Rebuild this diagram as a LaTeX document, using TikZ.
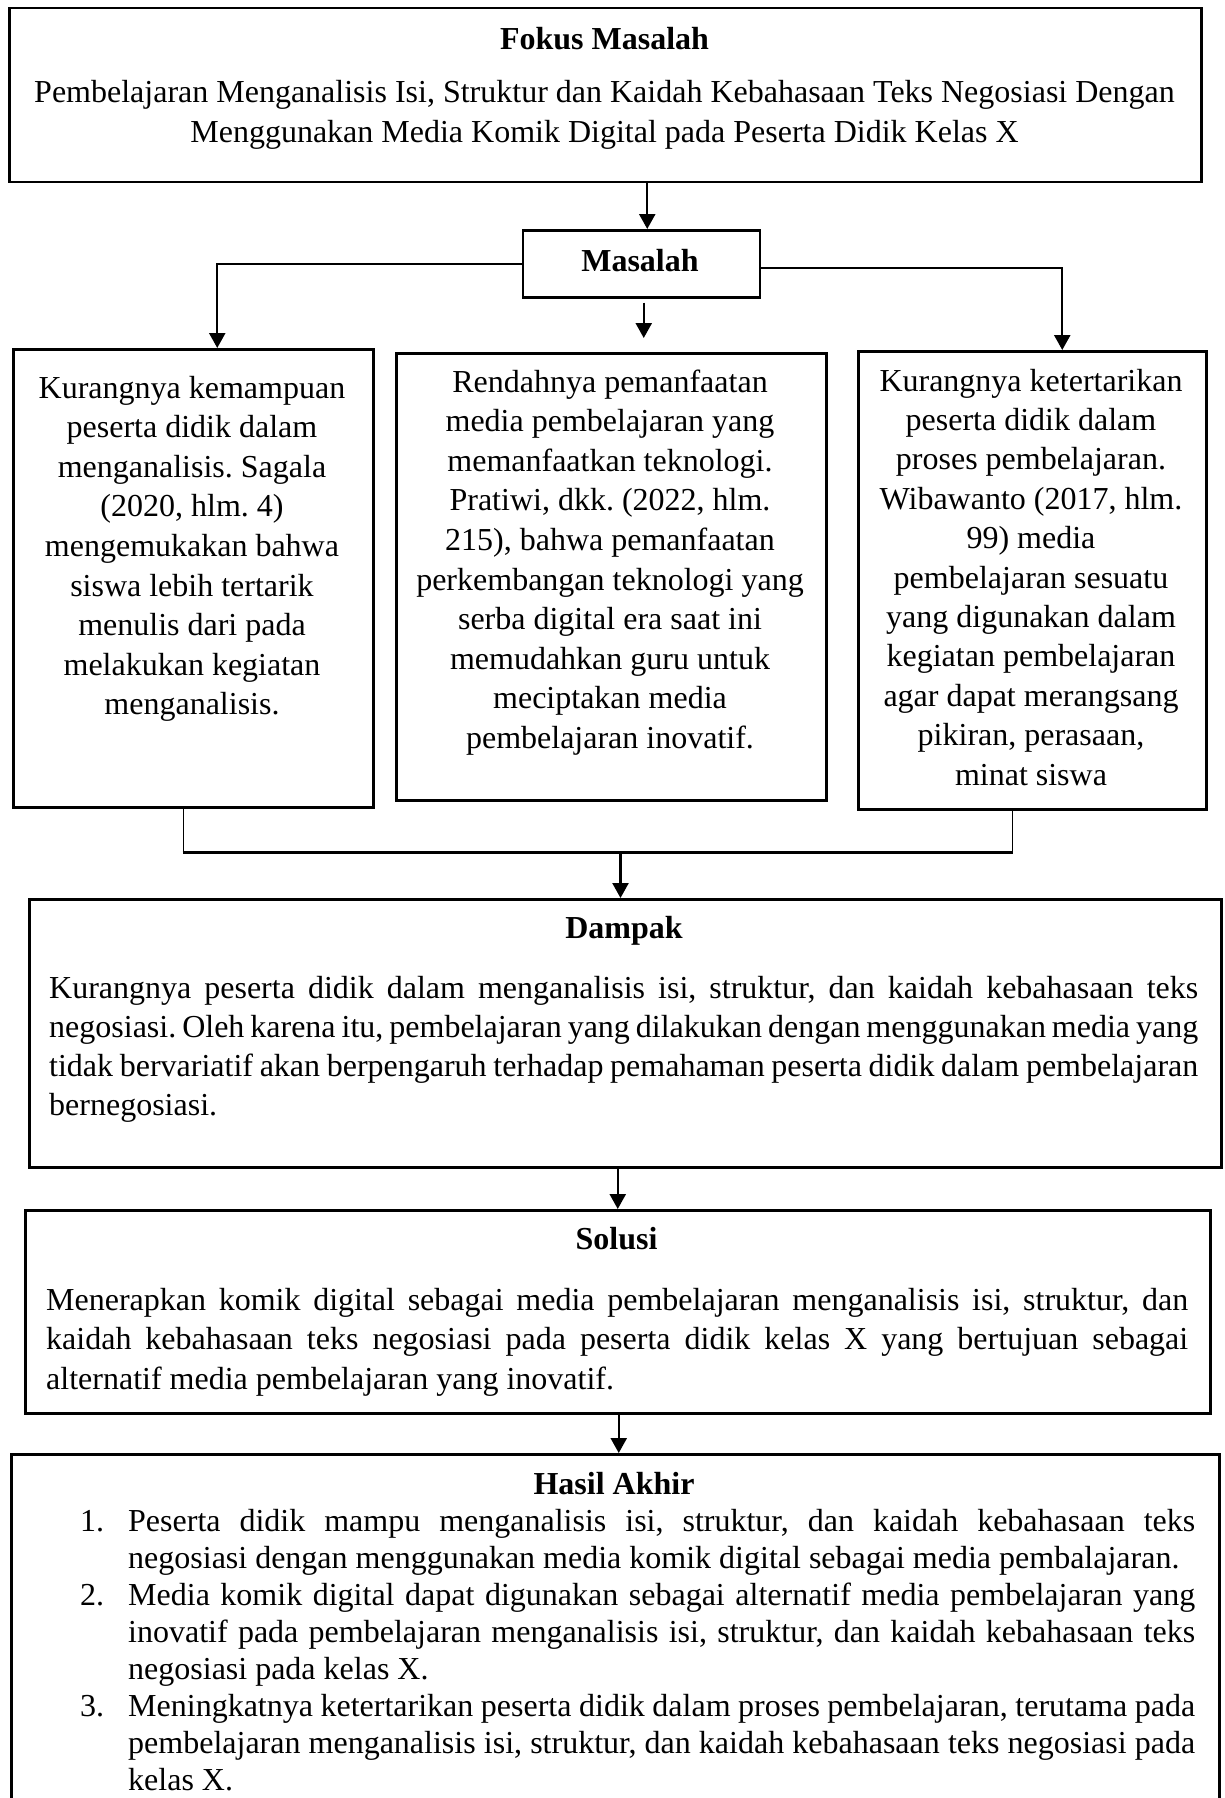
\documentclass[tikz,border=0pt]{standalone}
\usepackage{fontspec}
\setmainfont{Liberation Serif}
\usetikzlibrary{arrows.meta}
\newcommand\normsp{\spaceskip=0pt\xspaceskip=0pt\frenchspacing\parindent=0pt\relax}
\newcommand\ctrsp{\spaceskip=0.25em\xspaceskip=0.25em\frenchspacing\parindent=0pt\relax}
\newcommand\jline[1]{\leavevmode\hbox to \hsize{#1}}
\newcommand\num[1]{\llap{\hbox to 48pt{#1\hfil}}}
\tikzset{
  box/.style={draw, line width=2.5pt, inner sep=0pt, anchor=north west},
  txt/.style={inner sep=0pt, font=\fontsize{32}{39.6}\selectfont},
  ttl/.style={inner sep=0pt, font=\fontsize{32}{39.6}\selectfont\bfseries, anchor=base},
  conn/.style={line width=2.4pt},
  stub/.style={line width=1.4pt},
  arr/.style={line width=2.4pt, -{Triangle[width=16pt,length=15pt]}},
}
\begin{document}
\begin{tikzpicture}[x=1pt,y=-1pt]
\fill[white] (0,0) rectangle (1224,1798);
\clip (0,0) rectangle (1224,1798);
% boxes
\node[box, minimum width=1192pt, minimum height=174pt] (fokus) at (8,7) {};
\node[box, minimum width=237pt, minimum height=67pt] (masalah) at (521.5,229) {};
\node[box, minimum width=360pt, minimum height=458pt] (k1) at (12,348) {};
\node[box, minimum width=430pt, minimum height=447pt] (k2) at (395,352) {};
\node[box, minimum width=348pt, minimum height=458pt] (k3) at (857,350) {};
\node[box, minimum width=1192pt, minimum height=268pt] (dampak) at (28,898) {};
\node[box, minimum width=1185pt, minimum height=203pt] (solusi) at (24,1209) {};
\node[box, minimum width=1208pt, minimum height=420pt] (hasil) at (10,1453) {};
% texts
\node[ttl] (tfokus) at (604.5,50) {Fokus Masalah};
\node[txt, anchor=base, text width=1180pt, align=center, font=\fontsize{32}{40}\selectfont] (bfokus) at (604.5,103)
 {\ctrsp Pembelajaran Menganalisis Isi, Struktur dan Kaidah Kebahasaan Teks Negosiasi Dengan\\
  Menggunakan Media Komik Digital pada Peserta Didik Kelas X};
\node[ttl] (tmasalah) at (640,271) {Masalah};
\node[txt, anchor=base, text width=350pt, align=center] (bk1) at (192,398)
 {\ctrsp Kurangnya kemampuan\\ peserta didik dalam\\ menganalisis. Sagala\\ (2020, hlm. 4)\\ mengemukakan bahwa\\ siswa lebih tertarik\\ menulis dari pada\\ melakukan kegiatan\\ menganalisis.};
\node[txt, anchor=base, text width=420pt, align=center] (bk2) at (610,392)
 {\ctrsp Rendahnya pemanfaatan\\ media pembelajaran yang\\ memanfaatkan teknologi.\\ Pratiwi, dkk. (2022, hlm.\\ 215), bahwa pemanfaatan\\ perkembangan teknologi yang\\ serba digital era saat ini\\ memudahkan guru untuk\\ meciptakan media\\ pembelajaran inovatif.};
\node[txt, anchor=base, text width=340pt, align=center, font=\fontsize{32}{39.4}\selectfont] (bk3) at (1031,391)
 {\ctrsp Kurangnya ketertarikan\\ peserta didik dalam\\ proses pembelajaran.\\ Wibawanto (2017, hlm.\\ 99) media\\ pembelajaran sesuatu\\ yang digunakan dalam\\ kegiatan pembelajaran\\ agar dapat merangsang\\ pikiran, perasaan,\\ minat siswa};
\node[ttl] (tdampak) at (624,938) {Dampak};
\node[txt, anchor=base west, text width=1149pt, align=left, font=\fontsize{32}{39}\selectfont] (bdampak) at (49,998)
 {\normsp\jline{Kurangnya peserta didik dalam menganalisis isi, struktur, dan kaidah kebahasaan teks}\\
  \jline{negosiasi. Oleh karena itu, pembelajaran yang dilakukan dengan menggunakan media yang}\\
  \jline{tidak bervariatif akan berpengaruh terhadap pemahaman peserta didik dalam pembelajaran}\\
  \mbox{bernegosiasi.}};
\node[ttl] (tsolusi) at (616.5,1249) {Solusi};
\node[txt, anchor=base west, text width=1142pt, align=left, font=\fontsize{32}{39.5}\selectfont] (bsolusi) at (46,1310)
 {\normsp\jline{Menerapkan komik digital sebagai media pembelajaran menganalisis isi, struktur, dan}\\
  \jline{kaidah kebahasaan teks negosiasi pada peserta didik kelas X yang bertujuan sebagai}\\
  \mbox{alternatif media pembelajaran yang inovatif.}};
\node[ttl] (thasil) at (614,1494) {Hasil Akhir};
\node[txt, anchor=base west, text width=1067pt, align=left, font=\fontsize{32}{37}\selectfont] (bhasil) at (128,1531)
 {\normsp\jline{\num{1.}Peserta didik mampu menganalisis isi, struktur, dan kaidah kebahasaan teks}\\
  \mbox{negosiasi dengan menggunakan media komik digital sebagai media pembalajaran.}\\
  \jline{\num{2.}Media komik digital dapat digunakan sebagai alternatif media pembelajaran yang}\\
  \jline{inovatif pada pembelajaran menganalisis isi, struktur, dan kaidah kebahasaan teks}\\
  \mbox{negosiasi pada kelas X.}\\
  \jline{\num{3.}Meningkatnya ketertarikan peserta didik dalam proses pembelajaran, terutama pada}\\
  \jline{pembelajaran menganalisis isi, struktur, dan kaidah kebahasaan teks negosiasi pada}\\
  \mbox{kelas X.}};
% connectors
\draw[arr] ([xshift=6pt]masalah.north |- fokus.south) -- ([xshift=6pt]masalah.north);
\draw[arr] (masalah.west) -| ([xshift=24pt]k1.north);
\coordinate (rc) at ([yshift=-4.5pt]masalah.east);
\draw[arr] (rc) -| ([xshift=30pt]k3.north);
\draw[arr] ([xshift=2.5pt,yshift=-4pt]masalah.south) -- ([xshift=32.5pt,yshift=14pt]k2.north);
\coordinate (join) at (620.5,852.5);
\draw[stub] ([xshift=-10pt]k1.south) -- ([xshift=-10pt]k1.south |- join);
\draw[stub] ([xshift=-20pt]k3.south) -- ([xshift=-20pt]k3.south |- join);
\draw[conn] ([xshift=-10.7pt]k1.south |- join) -- ([xshift=-19.3pt]k3.south |- join);
\draw[arr] (join) -- (join |- dampak.north);
\draw[arr] (solusi.north |- dampak.south) -- (solusi.north);
\draw[arr] ([xshift=1pt]solusi.south) -- ([xshift=1pt]solusi.south |- hasil.north);
\end{tikzpicture}
\end{document}
